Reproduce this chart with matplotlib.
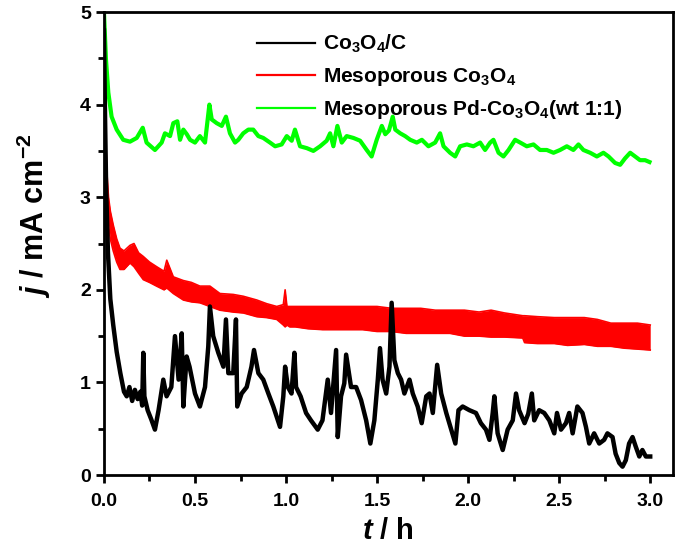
import matplotlib
matplotlib.use("Agg")
import matplotlib.pyplot as plt

plt.rcParams["font.family"] = "Liberation Sans"
plt.rcParams["font.weight"] = "bold"
plt.rcParams["axes.labelweight"] = "bold"
plt.rcParams["mathtext.fontset"] = "custom"
plt.rcParams["mathtext.rm"] = "Liberation Sans:bold"
plt.rcParams["mathtext.bf"] = "Liberation Sans:bold"
plt.rcParams["mathtext.it"] = "Liberation Sans:bold:italic"
plt.rcParams["mathtext.default"] = "bf"

# Co3O4/C (black)
t_black = [0, 0.005, 0.012, 0.022, 0.035, 0.051, 0.07, 0.09, 0.11, 0.125,
           0.14, 0.155, 0.17, 0.185, 0.2, 0.21, 0.216, 0.222, 0.24, 0.26,
           0.28, 0.3, 0.326, 0.344, 0.37, 0.39, 0.41, 0.427, 0.436, 0.454,
           0.47, 0.5, 0.527, 0.555, 0.573, 0.582, 0.6, 0.628, 0.656, 0.67,
           0.683, 0.71, 0.725, 0.732, 0.756, 0.784, 0.81, 0.824, 0.848, 0.875,
           0.903, 0.93, 0.967, 0.985, 0.995, 1.01, 1.03, 1.046, 1.055, 1.08,
           1.11, 1.137, 1.174, 1.2, 1.229, 1.247, 1.275, 1.284, 1.302, 1.32,
           1.33, 1.357, 1.385, 1.412, 1.44, 1.463, 1.485, 1.504, 1.516, 1.53,
           1.55, 1.568, 1.58, 1.595, 1.614, 1.632, 1.65, 1.678, 1.696, 1.723,
           1.745, 1.77, 1.788, 1.806, 1.83, 1.852, 1.88, 1.907, 1.93, 1.947,
           1.97, 2.007, 2.043, 2.07, 2.098, 2.117, 2.135, 2.144, 2.162, 2.19,
           2.217, 2.245, 2.263, 2.28, 2.31, 2.33, 2.35, 2.363, 2.39, 2.418,
           2.446, 2.473, 2.488, 2.51, 2.537, 2.555, 2.574, 2.6, 2.628, 2.647,
           2.665, 2.692, 2.72, 2.747, 2.765, 2.793, 2.81, 2.83, 2.848, 2.866,
           2.884, 2.903, 2.92, 2.94, 2.957, 2.976, 3.0]
j_black = [4.8, 4.0, 3.1, 2.4, 1.9, 1.62, 1.33, 1.1, 0.9, 0.85,
           0.95, 0.8, 0.92, 0.82, 0.9, 0.75, 1.32, 0.85, 0.7, 0.6,
           0.49, 0.7, 1.03, 0.85, 0.95, 1.5, 1.03, 1.53, 0.74, 1.28,
           1.17, 0.88, 0.74, 0.95, 1.39, 1.82, 1.5, 1.32, 1.17, 1.68,
           1.1, 1.1, 1.68, 0.74, 0.88, 0.95, 1.17, 1.35, 1.1, 1.03,
           0.88, 0.74, 0.52, 0.85, 1.17, 0.95, 0.88, 1.32, 0.95, 0.85,
           0.67, 0.59, 0.49, 0.59, 1.03, 0.67, 1.35, 0.41, 0.85, 0.99,
           1.3, 0.95, 0.95, 0.81, 0.59, 0.34, 0.59, 1.03, 1.37, 1.03,
           0.88, 1.17, 1.86, 1.24, 1.1, 1.03, 0.88, 1.03, 0.88, 0.74,
           0.56, 0.85, 0.88, 0.67, 1.19, 0.88, 0.67, 0.49, 0.34, 0.7,
           0.74, 0.7, 0.67, 0.56, 0.49, 0.38, 0.67, 0.85, 0.45, 0.27,
           0.49, 0.59, 0.88, 0.7, 0.56, 0.66, 0.88, 0.59, 0.7, 0.67,
           0.59, 0.45, 0.67, 0.49, 0.56, 0.67, 0.45, 0.74, 0.67, 0.52,
           0.34, 0.45, 0.34, 0.38, 0.45, 0.41, 0.23, 0.13, 0.09, 0.16,
           0.34, 0.41, 0.31, 0.2, 0.27, 0.2, 0.2]

# Mesoporous Co3O4 (red) - noisy band, upper / lower edge
t_red = [0, 0.008, 0.015, 0.025, 0.035, 0.051, 0.07, 0.088, 0.11, 0.143,
         0.165, 0.19, 0.216, 0.25, 0.289, 0.33, 0.345, 0.381, 0.436, 0.48,
         0.527, 0.582, 0.637, 0.71, 0.766, 0.839, 0.894, 0.949, 0.985, 0.995,
         1.005, 1.02, 1.05, 1.12, 1.2, 1.27, 1.34, 1.42, 1.5, 1.58,
         1.66, 1.74, 1.82, 1.9, 1.98, 2.06, 2.126, 2.2, 2.3, 2.31,
         2.38, 2.473, 2.546, 2.638, 2.71, 2.784, 2.857, 2.93, 3.0]
j_red_hi = [4.9, 3.8, 3.3, 3.0, 2.85, 2.7, 2.55, 2.45, 2.42, 2.48,
            2.5, 2.4, 2.36, 2.3, 2.25, 2.2, 2.32, 2.14, 2.1, 2.08,
            2.04, 2.04, 1.96, 1.95, 1.93, 1.89, 1.85, 1.82, 1.84, 2.0,
            1.82, 1.82, 1.82, 1.82, 1.82, 1.82, 1.82, 1.82, 1.82, 1.8,
            1.8, 1.8, 1.78, 1.78, 1.78, 1.76, 1.78, 1.75, 1.72, 1.72,
            1.71, 1.70, 1.70, 1.70, 1.68, 1.64, 1.64, 1.64, 1.62]
j_red_lo = [4.6, 3.4, 3.0, 2.7, 2.55, 2.42, 2.3, 2.22, 2.22, 2.29,
            2.25, 2.18, 2.11, 2.08, 2.04, 2.0, 2.02, 1.96, 1.89, 1.87,
            1.86, 1.82, 1.78, 1.76, 1.75, 1.71, 1.70, 1.68, 1.62, 1.6,
            1.62, 1.6, 1.6, 1.58, 1.57, 1.57, 1.57, 1.57, 1.55, 1.55,
            1.53, 1.53, 1.53, 1.53, 1.5, 1.5, 1.49, 1.49, 1.48, 1.43,
            1.42, 1.42, 1.40, 1.41, 1.39, 1.39, 1.37, 1.36, 1.35]

# Mesoporous Pd-Co3O4 (green)
t_green = [0, 0.011, 0.024, 0.042, 0.07, 0.106, 0.143, 0.18, 0.213, 0.234,
           0.28, 0.317, 0.335, 0.363, 0.381, 0.403, 0.418, 0.436, 0.455, 0.473,
           0.5, 0.527, 0.555, 0.579, 0.592, 0.619, 0.647, 0.67, 0.692, 0.72,
           0.738, 0.765, 0.793, 0.82, 0.848, 0.875, 0.912, 0.94, 0.976, 1.004,
           1.031, 1.049, 1.077, 1.114, 1.15, 1.187, 1.223, 1.242, 1.26, 1.282,
           1.306, 1.333, 1.37, 1.407, 1.443, 1.47, 1.498, 1.526, 1.545, 1.565,
           1.586, 1.6, 1.627, 1.654, 1.682, 1.718, 1.746, 1.782, 1.819, 1.846,
           1.865, 1.901, 1.929, 1.956, 1.993, 2.029, 2.066, 2.093, 2.121, 2.139,
           2.167, 2.194, 2.222, 2.258, 2.286, 2.322, 2.359, 2.395, 2.432, 2.469,
           2.505, 2.542, 2.578, 2.606, 2.633, 2.67, 2.707, 2.743, 2.771, 2.807,
           2.835, 2.862, 2.89, 2.917, 2.944, 2.972, 2.996]
j_green = [5.0, 4.49, 4.13, 3.87, 3.73, 3.62, 3.6, 3.64, 3.75, 3.59,
           3.51, 3.59, 3.69, 3.66, 3.8, 3.82, 3.62, 3.73, 3.68, 3.62,
           3.59, 3.66, 3.59, 4.0, 3.84, 3.8, 3.77, 3.87, 3.69, 3.59,
           3.62, 3.69, 3.73, 3.73, 3.66, 3.64, 3.59, 3.55, 3.57, 3.66,
           3.61, 3.73, 3.55, 3.53, 3.5, 3.55, 3.61, 3.69, 3.55, 3.77,
           3.59, 3.66, 3.64, 3.61, 3.51, 3.44, 3.62, 3.77, 3.68, 3.72,
           3.87, 3.73, 3.69, 3.66, 3.62, 3.59, 3.62, 3.55, 3.59, 3.69,
           3.55, 3.48, 3.44, 3.55, 3.57, 3.55, 3.59, 3.51, 3.59, 3.62,
           3.48, 3.44, 3.51, 3.62, 3.59, 3.55, 3.57, 3.51, 3.51, 3.48,
           3.51, 3.55, 3.51, 3.57, 3.51, 3.48, 3.44, 3.48, 3.44, 3.37,
           3.35, 3.42, 3.48, 3.44, 3.4, 3.4, 3.38]

labels = [r"Co$_3$O$_4$/C", r"Mesoporous Co$_3$O$_4$",
          r"Mesoporous Pd-Co$_3$O$_4$(wt 1:1)"]

fig = plt.figure(figsize=(6.75, 5.46), dpi=100)
ax = fig.add_axes([0.154, 0.13, 0.843, 0.848])

ax.plot(t_black, j_black, color="black", lw=3.2, label=labels[0], zorder=3)
ax.fill_between(t_red, j_red_lo, j_red_hi, color="#ff0000", lw=0, zorder=2)
ax.plot(t_red, j_red_hi, color="#ff0000", lw=1.2, zorder=2)
ax.plot(t_red, j_red_lo, color="#ff0000", lw=1.2, zorder=2)
ax.plot([], [], color="#ff0000", lw=1.6, label=labels[1])
ax.plot(t_green, j_green, color="#00ff00", lw=3.0, label=labels[2], zorder=2)

ax.set_xlim(0, 3.125)
ax.set_ylim(0, 5)
ax.set_xticks([0, 0.5, 1.0, 1.5, 2.0, 2.5, 3.0])
ax.set_xticklabels(["0.0", "0.5", "1.0", "1.5", "2.0", "2.5", "3.0"])
ax.set_xticks([0.25, 0.75, 1.25, 1.75, 2.25, 2.75], minor=True)
ax.set_yticks([0, 1, 2, 3, 4, 5])
ax.set_yticks([0.5, 1.5, 2.5, 3.5, 4.5], minor=True)
ax.tick_params(which="major", direction="out", length=6, width=2, labelsize=14)
ax.tick_params(axis="x", which="major", pad=7)
ax.tick_params(which="minor", direction="out", length=4, width=2)
for s in ax.spines.values():
    s.set_linewidth(2)

ax.set_xlabel(r"$\mathit{t}$ / h", fontsize=21, labelpad=5)
ax.set_ylabel(r"$\mathit{j}$ / mA cm$^{-2}$", fontsize=22)
ax.yaxis.set_label_coords(-0.09, 0.56)

leg = ax.legend(loc="upper left", bbox_to_anchor=(0.236, 0.995), frameon=False,
                fontsize=15, handlelength=2.8, handletextpad=0.35,
                labelspacing=0.5)
for line in leg.get_lines():
    line.set_linewidth(1.6)

fig.savefig("out.png", dpi=100)
